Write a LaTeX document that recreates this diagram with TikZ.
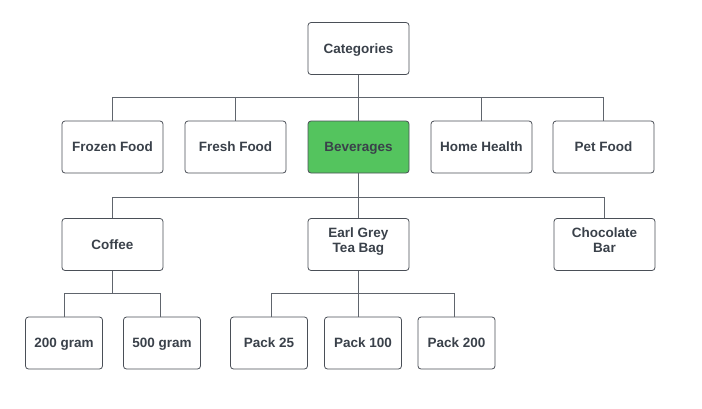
\documentclass[tikz,border=0pt]{standalone}
\usepackage{fontspec}
\setmainfont{Liberation Sans}
\definecolor{txt}{HTML}{3A414A}
\definecolor{brd}{HTML}{4A4F57}
\definecolor{lin}{HTML}{60656D}
\definecolor{grn}{HTML}{54C45E}
\begin{document}
\begin{tikzpicture}[x=1pt,y=-1pt,
  box/.style={draw=brd, line width=0.8pt, rounded corners=3pt, fill=white,
    minimum width=101pt, minimum height=52pt, inner sep=0pt, align=center,
    text=txt, font=\fontsize{13.5}{15}\selectfont\bfseries,
    text height=9.7pt, text depth=0pt},
  twoline/.style={text height=20.5pt, text depth=4.2pt},
  sbox/.style={box, minimum width=77pt},
  conn/.style={draw=lin, line width=0.8pt}]
\useasboundingbox (0,0) rectangle (702,408);
% level 0
\node[box] (cat) at (358.5,48.5) {Categories};
% level 1
\node[box] (frozen) at (112.5,147) {Frozen Food};
\node[box] (fresh) at (235.5,147) {Fresh Food};
\node[box, fill=grn] (bev) at (358.5,147) {Beverages};
\node[box] (home) at (481.5,147) {Home Health};
\node[box] (pet) at (603.5,147) {Pet Food};
% level 2
\node[box] (coffee) at (112.5,244.5) {Coffee};
\node[box, twoline] (earl) at (358.5,244.5) {Earl Grey\\Tea Bag};
\node[box, twoline] (choc) at (604.5,244.5) {Chocolate\\Bar};
% level 3
\node[sbox] (g200) at (64,343) {200 gram};
\node[sbox] (g500) at (162,343) {500 gram};
\node[sbox] (p25) at (269,343) {Pack 25};
\node[sbox] (p100) at (363,343) {Pack 100};
\node[sbox] (p200) at (456.5,343) {Pack 200};
% connectors level 0 -> 1
\coordinate (b1) at (358.5,97);
\coordinate (b2) at (358.5,197);
\coordinate (b3) at (112.5,293.5);
\coordinate (b4) at (358.5,293.5);
\foreach \c in {frozen,fresh,bev,home,pet}
  \draw[conn] (cat.south) -- (b1) -| (\c.north);
% level 1 -> 2
\foreach \c in {coffee,earl,choc}
  \draw[conn] (bev.south) -- (b2) -| (\c.north);
% level 2 -> 3
\coordinate (s200) at (64,317);
\coordinate (s500) at (160,317);
\coordinate (s25) at (271.5,317);
\coordinate (s100) at (358.5,317);
\coordinate (s200b) at (454.5,317);
\foreach \c in {s200,s500}
  \draw[conn] (coffee.south) -- (b3) -| (\c);
\foreach \c in {s25,s100,s200b}
  \draw[conn] (earl.south) -- (b4) -| (\c);
\end{tikzpicture}
\end{document}
